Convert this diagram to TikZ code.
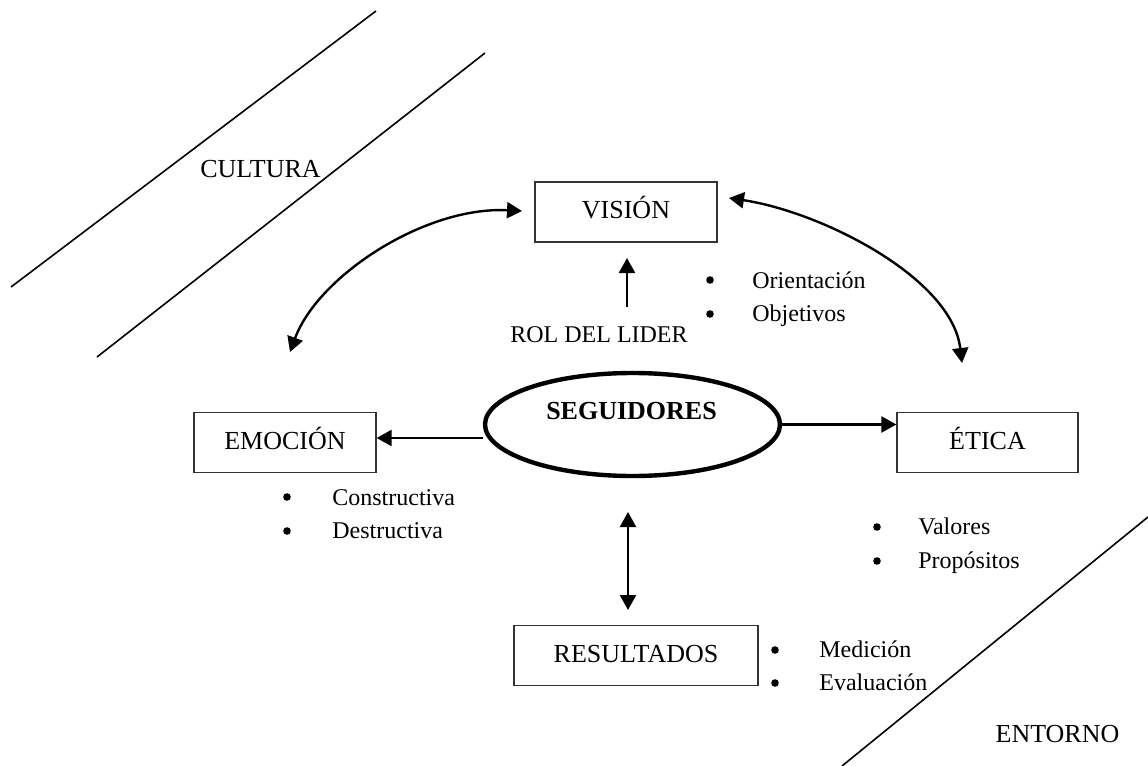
\documentclass[tikz,border=0pt]{standalone}
\usepackage{fontspec}
\setmainfont{Liberation Serif}
\usetikzlibrary{arrows.meta,shapes.geometric}
\begin{document}
\begin{tikzpicture}[x=0.5pt,y=-0.5pt,
  box/.style={draw=black!80, line width=0.65pt, inner sep=0pt,
    minimum height=30pt, font=\fontsize{13}{15}\selectfont,
    text height=0.68em, text depth=0pt},
  lbl/.style={anchor=base, inner sep=0pt, font=\fontsize{13}{15}\selectfont},
  item/.style={anchor=base west, inner sep=0pt, font=\fontsize{12}{14}\selectfont},
  dot/.style={circle, fill=black, inner sep=0pt, minimum size=3.8pt},
  band/.style={line width=0.8pt},
  arr/.style={line width=1.2pt, -{Triangle[length=7.5pt,width=8pt]}},
  arrboth/.style={line width=1.2pt, {Triangle[length=7.5pt,width=8pt]}-{Triangle[length=7.5pt,width=8pt]}}]

\useasboundingbox (0,0) rectangle (1148,766);

% surrounding bands
\draw[band] (11,287) -- (376,11);
\draw[band] (97,357) -- (485,53);
\draw[band] (842,766) -- (1148,517);
\node[lbl] (cultura) at (260.5,177) {CULTURA};
\node[lbl] (entorno) at (1057.5,742) {ENTORNO};

% main boxes
\node[box, minimum width=91pt] (vision) at (626,212) {VISIÓN};
\node[box, minimum width=91pt] (emocion) at (285,442.5) {EMOCIÓN};
\node[box, minimum width=90.5pt] (etica) at (987.5,442.5) {ÉTICA};
\node[box, minimum width=122pt] (resultados) at (636,655.5) {RESULTADOS};

% central ellipse
\node[ellipse, draw, line width=2.2pt, minimum width=147.5pt,
  minimum height=51.5pt, inner sep=0pt] (seg) at (632.5,424.5) {};
\node[anchor=base, inner sep=0pt, font=\fontsize{13}{15}\selectfont\bfseries]
  (segtext) at (631.5,419) {SEGUIDORES};

% leader role
\node[anchor=base, inner sep=0pt, font=\fontsize{12}{14}\selectfont]
  (rol) at (599,342) {ROL DEL LIDER};
\coordinate (rolTail) at (627,307);
\coordinate (rolTip) at (627,258);
\draw[arr] (rolTail) -- (rolTip);

% straight connectors
\draw[arr] ([yshift=-6.75pt]seg.west) -- ([yshift=-6.75pt]seg.west -| emocion.east);
\draw[arr] (seg.east) -- (seg.east -| etica.west);
\coordinate (resTop) at (628,512);
\coordinate (resBot) at (628,610);
\draw[arrboth] (resTop) -- (resBot);

% curved connectors
\coordinate (visL) at (522,211);
\coordinate (emoT) at (290,352);
\coordinate (visR) at (729,198);
\coordinate (etiT) at (962,363);
\draw[arrboth] (emoT) .. controls (318,276) and (425,206) .. (visL);
\draw[arrboth] (visR) .. controls (822,212) and (952,278) .. (etiT);

% bullet lists
\node[dot] (b1) at (710,280) {};
\node[item] (i1) at (752,288) {Orientación};
\node[dot] (b2) at (710,314) {};
\node[item] (i2) at (752,321) {Objetivos};

\node[dot] (b3) at (287,497) {};
\node[item] (i3) at (332,505) {Constructiva};
\node[dot] (b4) at (287,531) {};
\node[item] (i4) at (332,538) {Destructiva};

\node[dot] (b5) at (877,527) {};
\node[item] (i5) at (918,534) {Valores};
\node[dot] (b6) at (877,561) {};
\node[item] (i6) at (918,568) {Propósitos};

\node[dot] (b7) at (775,650) {};
\node[item] (i7) at (819,657) {Medición};
\node[dot] (b8) at (775,683) {};
\node[item] (i8) at (819,690) {Evaluación};

\end{tikzpicture}
\end{document}
